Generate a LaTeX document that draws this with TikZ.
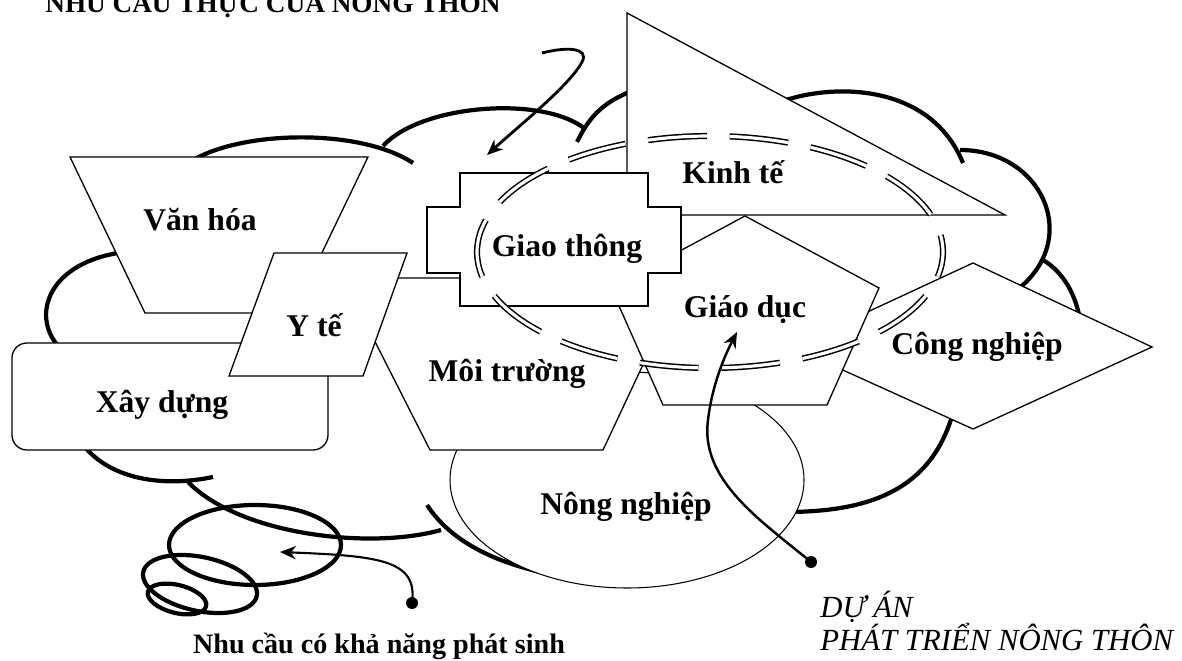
\documentclass[tikz,border=0pt]{standalone}
\usepackage{fontspec}
\setmainfont{Liberation Serif}
\usetikzlibrary{arrows.meta}

\begin{document}
\begin{tikzpicture}[
    x=0.02cm, y=-0.02cm,
    cloudline/.style={line width=2.4pt, line cap=butt},
    shapebox/.style={draw, fill=white, line width=0.75pt, line join=miter},
    lbl/.style={font=\fontsize{18}{20}\selectfont\bfseries, anchor=base},
    pointer/.style={line width=1.4pt, -{Stealth[length=9pt, width=7.5pt]}},
]
\useasboundingbox (0,0) rectangle (1182,661);

% Title (runs off the top edge)
\node[font=\fontsize{15.5}{17}\selectfont\bfseries, anchor=base west, inner sep=0pt]
    (title) at (45,13) {NHU CẦU THỰC CỦA NÔNG THÔN};

% =============================================
% CLOUD – thick bumps, most of it hidden behind the boxes
% =============================================
\draw[cloudline] (118,253) .. controls (45,265) and (30,320) .. (62,350);
\draw[cloudline] (190,162) .. controls (240,130) and (360,128) .. (413,163);
\draw[cloudline] (383,146) .. controls (420,105) and (540,95) .. (584,128);
\draw[cloudline] (577,142) .. controls (590,115) and (605,100) .. (640,88);
\draw[cloudline] (760,112) .. controls (800,85) and (925,70) .. (963,163);
\draw[cloudline] (960,150) .. controls (1045,150) and (1085,245) .. (1010,295);
\draw[cloudline] (1043,260) .. controls (1060,270) and (1075,290) .. (1080,320);
\draw[cloudline] (955,405) .. controls (935,490) and (870,512) .. (785,512);
\draw[cloudline] (427,505) .. controls (450,540) and (490,560) .. (540,572);
\draw[cloudline] (188,482) .. controls (240,535) and (370,550) .. (441,530);
\draw[cloudline] (84,446) .. controls (110,478) and (160,488) .. (213,477);

% Tail bubbles
\draw[cloudline] (255,545) ellipse (86 and 40);
\draw[cloudline, shift={(200,584)}, rotate=-12] (0,0) ellipse (58 and 27);
\draw[cloudline, shift={(177,599)}, rotate=-14] (0,0) ellipse (30 and 14);

% =============================================
% SECTORS – one shape each, back to front
% =============================================
% Nong nghiep – ellipse
\draw[shapebox, line width=0.6pt] (627,480) ellipse (177 and 108);
\node[lbl] (nongnghiep) at (626,515) {Nông nghiệp};

% Moi truong – hexagon
\draw[shapebox] (364,320) -- (395,278) -- (635,278) -- (663,322)
    -- (603,450) -- (430,450) -- cycle;
\node[lbl] (moitruong) at (507,382) {Môi trường};

% Xay dung – rounded box
\draw[shapebox, rounded corners=8.5pt] (12,343) rectangle (328,450);
\node[lbl] (xaydung) at (162,413) {Xây dựng};

% Van hoa – upside-down trapezoid
\draw[shapebox] (70,157) -- (368,157) -- (293,313) -- (145,313) -- cycle;
\node[lbl] (vanhoa) at (200,231) {Văn hóa};

% Y te – parallelogram
\draw[shapebox] (274,253) -- (407,253) -- (363,376) -- (229,376) -- cycle;
\node[lbl] (yte) at (314,337) {Y tế};

% Kinh te – right triangle
\draw[shapebox] (627,13) -- (1005,215) -- (627,215) -- cycle;
\node[lbl] (kinhte) at (733,184) {Kinh tế};

% Cong nghiep – diamond
\draw[shapebox] (792,347) -- (973,263) -- (1152,347) -- (973,429) -- cycle;
\node[lbl] (congnghiep) at (977,355) {Công nghiệp};

% Giao duc – pentagon
\draw[shapebox] (745,216) -- (879,288) -- (827,405) -- (663,405)
    -- (611,288) -- cycle;
\node[lbl] (giaoduc) at (745,318) {Giáo dục};

% Giao thong – cross with notched corners
\draw[shapebox] (460,173) -- (648,173) -- (648,207) -- (681,207)
    -- (681,273) -- (648,273) -- (648,306) -- (460,306) -- (460,273)
    -- (427,273) -- (427,207) -- (460,207) -- cycle;
\node[lbl] (giaothong) at (567,257) {Giao thông};

% =============================================
% PROJECT RING – double long-dash ellipse on top
% =============================================
\draw[line width=0.85pt, double, double distance=1.8pt,
      dash pattern=on 33.5pt off 13pt, dash phase=19pt]
    (710,252) ellipse (233 and 116);

% =============================================
% ARROWS AND CAPTIONS
% =============================================
\coordinate (curl) at (542,53);
\coordinate (ringin) at (487,155);
\draw[pointer, line width=1.6pt] (curl) .. controls (565,47) and (590,47) .. (582,62)
    .. controls (570,85) and (520,125) .. (ringin);

\coordinate (dotleft) at (412,603);
\coordinate (tailin) at (280,552);
\fill (dotleft) circle (6);
\draw[pointer, line width=1.2pt] (dotleft) .. controls (418,560) and (380,556) .. (tailin);

\coordinate (dotright) at (811,562);
\coordinate (ducin) at (737,332);
\fill (dotright) circle (6);
\draw[pointer] (dotright) .. controls (760,520) and (700,480) .. (708,420)
    .. controls (712,385) and (725,355) .. (ducin);

\node[font=\fontsize{16}{18}\selectfont\bfseries, anchor=base] (phatsinh)
    at (379,653) {Nhu cầu có khả năng phát sinh};
\node[font=\fontsize{17.5}{19}\selectfont\itshape, anchor=base west, inner sep=0pt]
    (duan) at (820,617) {DỰ ÁN};
\node[font=\fontsize{17.5}{19}\selectfont\itshape, anchor=base west, inner sep=0pt]
    (ptnt) at (820,650) {PHÁT TRIỂN NÔNG THÔN};

\end{tikzpicture}
\end{document}
